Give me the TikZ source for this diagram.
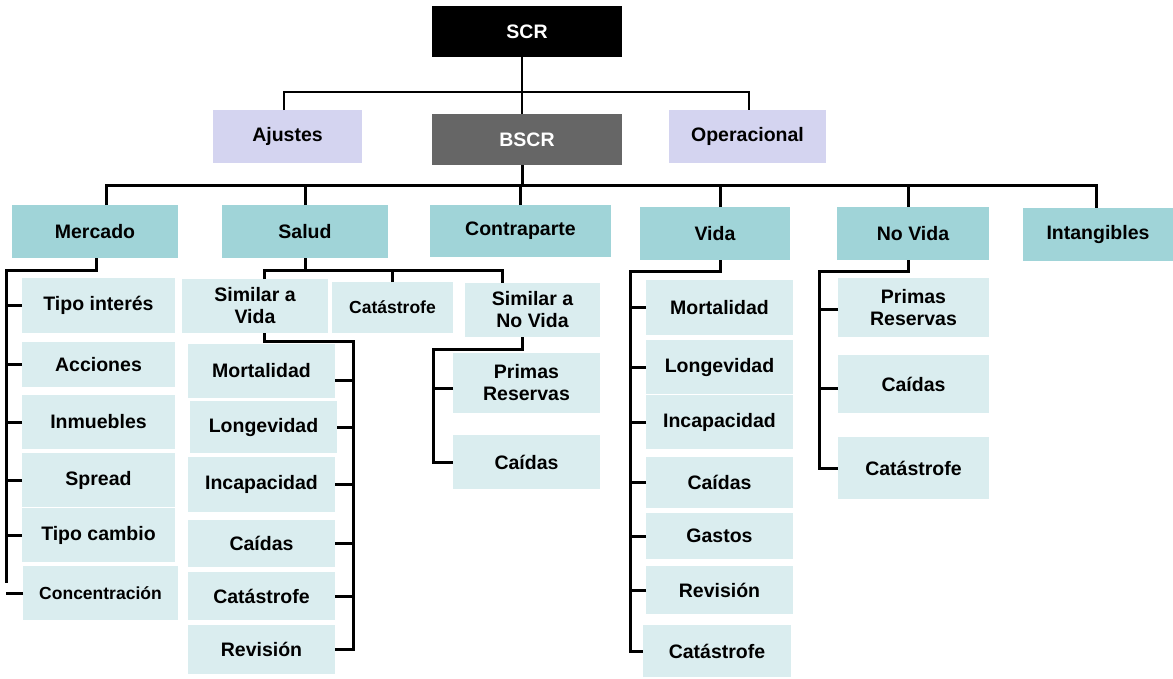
\documentclass[tikz,border=0pt]{standalone}
\usepackage{fontspec}
\setmainfont{Liberation Sans}
\definecolor{tealc}{HTML}{A0D4D8}
\definecolor{lightc}{HTML}{DAEDEF}
\definecolor{lavc}{HTML}{D4D4F0}
\definecolor{darkc}{HTML}{666666}
\newcommand\mybox[7]{\node[#6, minimum width={(#4-#2)*1pt}, minimum height={(#5-#3)*1pt}] (#1) at ({(#2+#4)/2},{(#3+#5)/2}) {#7};}
\begin{document}
\begin{tikzpicture}[x=1pt,y=-1pt,
  box/.style={inner sep=0pt, outer sep=0pt, align=center, font=\fontsize{19.5}{22}\selectfont\bfseries},
  topbox/.style={box, fill=black, text=white},
  graybox/.style={box, fill=darkc, text=white},
  lavbox/.style={box, fill=lavc},
  tealbox/.style={box, fill=tealc},
  lightbox/.style={box, fill=lightc},
  smallf/.style={font=\fontsize{17.5}{21}\selectfont\bfseries},
  conn/.style={draw=black, line width=3pt},
  thinconn/.style={draw=black, line width=2.3pt}]
\useasboundingbox (0,0) rectangle (1173,678);

% top levels
\mybox{scr}{432}{6}{622}{57}{topbox}{SCR}
\mybox{ajustes}{213}{110}{362}{163}{lavbox}{Ajustes}
\mybox{bscr}{432}{114}{622}{165}{graybox}{BSCR}
\mybox{oper}{669}{110}{826}{163}{lavbox}{Operacional}

\mybox{mercado}{12}{205}{178}{258}{tealbox}{Mercado}
\mybox{salud}{222}{205}{388}{258}{tealbox}{Salud}
\mybox{contra}{430}{205}{611}{257}{tealbox}{Contraparte}
\mybox{vida}{640}{207}{790}{260}{tealbox}{Vida}
\mybox{novida}{837}{207}{989}{260}{tealbox}{No Vida}
\mybox{intang}{1023}{208}{1173}{261}{tealbox}{Intangibles}

% Mercado children
\mybox{mtipo}{22}{278}{175}{333}{lightbox}{Tipo interés}
\mybox{macc}{22}{342}{175}{387}{lightbox}{Acciones}
\mybox{minm}{22}{395}{175}{449}{lightbox}{Inmuebles}
\mybox{mspr}{22}{453}{175}{507}{lightbox}{Spread}
\mybox{mcam}{22}{508}{175}{562}{lightbox}{Tipo cambio}
\mybox{mcon}{23}{566}{178}{620}{lightbox,smallf}{Concentración}

% Salud children
\mybox{simvida}{182}{279}{328}{333}{lightbox}{Similar a\\Vida}
\mybox{scat}{332}{282}{453}{333}{lightbox,smallf}{Catástrofe}
\mybox{simnov}{465}{283}{600}{337}{lightbox}{Similar a\\No Vida}

\mybox{svmort}{188}{344}{335}{398}{lightbox}{Mortalidad}
\mybox{svlong}{190}{401}{337}{453}{lightbox}{Longevidad}
\mybox{svinc}{188}{457}{335}{512}{lightbox}{Incapacidad}
\mybox{svcai}{188}{520}{335}{567}{lightbox}{Caídas}
\mybox{svcat}{188}{572}{335}{620}{lightbox}{Catástrofe}
\mybox{svrev}{188}{625}{335}{674}{lightbox}{Revisión}

\mybox{snprim}{453}{353}{600}{413}{lightbox}{Primas\\Reservas}
\mybox{sncai}{453}{435}{600}{489}{lightbox}{Caídas}

% Vida children
\mybox{vmort}{646}{280}{793}{335}{lightbox}{Mortalidad}
\mybox{vlong}{646}{340}{793}{394}{lightbox}{Longevidad}
\mybox{vinc}{646}{395}{793}{449}{lightbox}{Incapacidad}
\mybox{vcai}{646}{457}{793}{508}{lightbox}{Caídas}
\mybox{vgas}{646}{513}{793}{559}{lightbox}{Gastos}
\mybox{vrev}{646}{566}{793}{614}{lightbox}{Revisión}
\mybox{vcat}{643}{625}{791}{677}{lightbox}{Catástrofe}

% No Vida children
\mybox{nprim}{838}{278}{989}{337}{lightbox}{Primas\\Reservas}
\mybox{ncai}{838}{355}{989}{413}{lightbox}{Caídas}
\mybox{ncat}{838}{437}{989}{499}{lightbox}{Catástrofe}

% ---- connectors ----
\coordinate (b1) at (522,92);
\coordinate (scrs) at ([xshift=-5pt]scr.south);
\coordinate (bscrn) at ([xshift=-5pt]bscr.north);
\draw[thinconn] (scrs) -- (bscrn);
\coordinate (ajn) at ([xshift=-3.5pt]ajustes.north);
\coordinate (opn) at ([xshift=1.5pt]oper.north);
\draw[thinconn] (ajn) |- (b1) -| (opn);

\coordinate (b2) at (522,185);
\coordinate (bs) at ([xshift=-5pt]bscr.south);
\draw[conn] (bs) -- (bs |- b2);
\coordinate (mtop) at ([xshift=11pt]mercado.north);
\coordinate (itop) at ([xshift=-2pt]intang.north);
\draw[conn] (mtop) |- (b2) -| (itop);
\draw[conn] (salud.north) -- (salud.north |- b2);
\draw[conn] (contra.north) -- (contra.north |- b2);
\coordinate (vt) at ([xshift=5pt]vida.north);
\draw[conn] (vt) -- (vt |- b2);
\coordinate (nvt) at ([xshift=-5pt]novida.north);
\draw[conn] (nvt) -- (nvt |- b2);

% Mercado
\coordinate (ms) at ([xshift=1pt]mercado.south);
\coordinate (m1) at (6,270);
\coordinate (m2) at (6,583);
\draw[conn] (ms) |- (m1) -- (m2);
\foreach \n in {mtipo,macc,minm,mspr,mcam,mcon}
  \draw[conn] (\n.west) -- (\n.west -| m1);

% Salud
\coordinate (s1) at (305,270);
\draw[conn] (salud.south) -- (salud.south |- s1);
\coordinate (sd1) at ([xshift=9pt]simvida.north);
\coordinate (sd3) at ([xshift=-30.5pt]simnov.north);
\draw[conn] (sd1) |- (s1) -| (sd3);
\draw[conn] (scat.north) -- (scat.north |- s1);

% Similar a Vida
\coordinate (sv0) at ([xshift=9pt]simvida.south);
\coordinate (sv1) at (353,341);
\draw[conn] (sv0) |- (sv1) |- (svrev.east);
\coordinate (smt) at ([yshift=-9pt]svmort.east);
\draw[conn] (smt) -- (smt -| sv1);
\foreach \n in {svlong,svinc,svcai,svcat}
  \draw[conn] (\n.east) -- (\n.east -| sv1);

% Similar a No Vida
\coordinate (sn0) at ([xshift=-10.5pt]simnov.south);
\coordinate (sn1) at (433,349);
\draw[conn] (sn0) |- (sn1) |- (sncai.west);
\coordinate (snp) at ([yshift=-5pt]snprim.west);
\draw[conn] (snp) -- (snp -| sn1);

% Vida
\coordinate (v0) at ([xshift=5pt]vida.south);
\coordinate (v1) at (630,271);
\draw[conn] (v0) |- (v1) |- (vcat.west);
\foreach \n in {vmort,vlong,vinc,vcai,vgas,vrev}
  \draw[conn] (\n.west) -- (\n.west -| v1);

% No Vida
\coordinate (nv0) at ([xshift=-5pt]novida.south);
\coordinate (nv1) at (819,271);
\draw[conn] (nv0) |- (nv1) |- (ncat.west);
\coordinate (npt) at ([yshift=-2pt]nprim.west);
\draw[conn] (npt) -- (npt -| nv1);
\coordinate (nct) at ([yshift=-4pt]ncai.west);
\draw[conn] (nct) -- (nct -| nv1);
\end{tikzpicture}
\end{document}
